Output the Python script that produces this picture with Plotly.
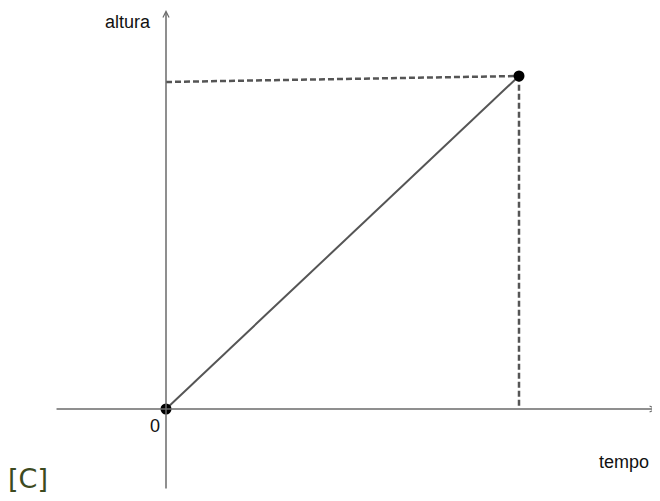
import plotly.graph_objects as go

# Data (normalized units)
t_point = [0.0, 1.0]          # tempo of origin and end point
h_point = [0.0, 1.0]          # altura of origin and end point
h_dash_left = 0.982           # left end of horizontal dashed guide
labels = {"x": "tempo", "y": "altura", "origin": "0", "tag": "[C]"}

x_range = [-0.4476, 1.4221]
y_range = [-0.3003, 1.2042]

axis_col = "#6b6b6b"
fig = go.Figure()

dash_style = dict(color="#555555", width=2.5, dash="6px,3px")
fig.add_trace(go.Scatter(x=[0, t_point[1]], y=[h_dash_left, h_point[1]], mode="lines",
                         line=dash_style, hoverinfo="skip"))
fig.add_trace(go.Scatter(x=[t_point[1], t_point[1]], y=[0.01, h_point[1]], mode="lines",
                         line=dash_style, hoverinfo="skip"))
fig.add_trace(go.Scatter(x=t_point, y=h_point, mode="lines",
                         line=dict(color="#555555", width=2), hoverinfo="skip"))
fig.add_annotation(x=1.391, y=0, ax=-0.3144, ay=0, xref="x", yref="y", axref="x", ayref="y",
                   text="", showarrow=True, arrowhead=5, arrowsize=0.8, arrowwidth=1.5, arrowcolor=axis_col)
fig.add_annotation(x=0, y=1.198, ax=0, ay=-0.243, xref="x", yref="y", axref="x", ayref="y",
                   text="", showarrow=True, arrowhead=5, arrowsize=0.8, arrowwidth=1.5, arrowcolor=axis_col)
fig.add_trace(go.Scatter(x=t_point, y=h_point, mode="markers",
                         marker=dict(color="black", size=11), hoverinfo="skip"))

font = dict(family="Liberation Sans, Arial", size=18, color="#111111")
fig.add_annotation(x=-0.1076, y=1.162, xref="x", yref="y", text=labels["y"], showarrow=False, font=font,
                   xanchor="center", yanchor="middle")
fig.add_annotation(x=1.2975, y=-0.159, xref="x", yref="y", text=labels["x"], showarrow=False, font=font,
                   xanchor="center", yanchor="middle")
fig.add_annotation(x=-0.0312, y=-0.051, xref="x", yref="y", text=labels["origin"], showarrow=False, font=font,
                   xanchor="center", yanchor="middle")
fig.add_annotation(x=0.0303, y=0.0599, xref="paper", yref="paper", text=labels["tag"], showarrow=False,
                   xanchor="center", yanchor="middle",
                   font=dict(family="DejaVu Sans", size=27, color="#3d4a1f"))

fig.update_layout(width=660, height=501, margin=dict(l=0, r=0, t=0, b=0),
                  plot_bgcolor="white", paper_bgcolor="white", showlegend=False,
                  xaxis=dict(range=x_range, visible=False, fixedrange=True),
                  yaxis=dict(range=y_range, visible=False, fixedrange=True))
fig.write_html("out.html")
